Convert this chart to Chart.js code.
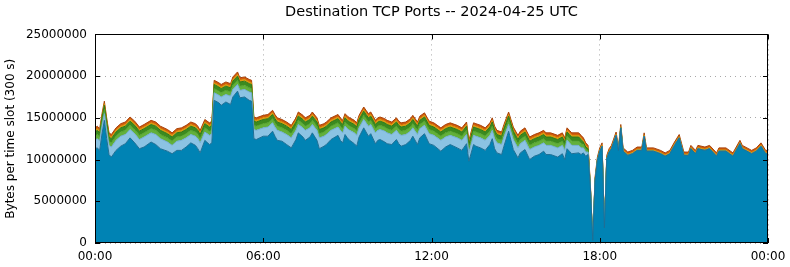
<!DOCTYPE html>
<html>
<head>
<meta charset="utf-8">
<script src="https://cdn.jsdelivr.net/npm/chart.js@4/dist/chart.umd.min.js"></script>
<style>
  body { margin: 0; background: #fff; }
  canvas { display: block; }
</style>
</head>
<body>
<canvas id="ports-chart" width="790" height="267"></canvas>
<script>
// 5 minute slot numbers (0 = 00:00, 288 = 24:00)
const slot = [
  0, 1, 2, 3, 4, 5, 6, 7, 9, 11, 13, 15, 17, 19, 21, 24, 26, 28, 31, 33, 35, 37, 39, 41, 43, 44, 45, 47, 49, 50,
  51, 53, 54, 56, 58, 59, 61, 62, 64, 66, 67,
  68, 69, 72, 74, 76, 77, 78, 80, 82, 84, 86, 87, 89, 90, 92, 93, 95, 96, 98, 99,
  101, 104, 105, 106, 107, 108, 109, 111, 112, 113, 115, 116, 117, 118, 120, 121, 122, 124, 125, 127,
  129, 130, 131, 133, 135, 136, 138, 139, 141, 143, 145, 148, 150, 152, 155, 157, 159, 160, 162, 163,
  165, 167, 169, 170, 171, 172, 174, 175, 177, 178, 179, 181, 182, 184, 186, 188, 190, 192, 193, 195,
  198, 200, 201, 202, 203, 204, 207, 208, 209, 210, 211,
  212, 213, 214, 215, 216, 217, 218, 219, 220, 221, 223, 224, 225, 226, 228, 230, 232, 234, 235, 236,
  239, 242, 244, 246, 248, 250, 252, 254, 255, 257, 258, 261, 263, 266, 267, 270, 273, 276, 277, 279,
  281, 283, 285, 287, 288
];

// stacked layers, in millions of bytes per slot (bottom to top)
const layerBlue = [
  11.3, 11.4, 11.1, 13.1, 14.7, 12.5, 10.6, 10.3, 11.1, 11.6, 11.9, 12.6, 12.0, 11.3, 11.5, 12.1, 11.8, 11.3, 11.0, 10.7, 11.1, 11.1, 11.5, 12.0, 11.7, 11.3, 10.8, 12.3, 11.8, 12.0,
  17.1, 16.8, 16.5, 16.9, 16.6, 17.5, 18.2, 17.4, 17.5, 17.1, 17.0,
  12.5, 12.4, 12.8, 12.8, 13.4, 12.8, 12.3, 12.2, 11.8, 11.4, 12.4, 13.2, 12.7, 12.3, 12.7, 13.2, 12.3, 11.3, 11.6, 11.8,
  12.4, 12.9, 12.3, 12.0, 13.0, 12.6, 12.3, 11.9, 11.6, 12.7, 13.8, 13.3, 12.8, 13.1, 11.9, 12.3, 12.4, 12.1, 11.9, 11.8,
  12.4, 11.9, 11.6, 11.8, 12.3, 12.8, 11.8, 12.6, 13.1, 11.9, 11.7, 11.0, 11.5, 11.8, 11.4, 11.1, 11.9, 9.8, 11.8, 11.6,
  11.4, 11.1, 11.8, 12.5, 11.3, 10.8, 10.6, 11.6, 13.4, 12.3, 11.2, 10.2, 10.8, 11.2, 10.0, 10.4, 10.6, 11.0, 10.6, 10.6,
  10.3, 10.7, 10.0, 11.3, 11.0, 10.7, 10.8, 10.6, 10.8, 10.4, 10.6,
  6.6, 0.3, 7.5, 9.9, 11.0, 11.6, 1.8, 10.1, 10.9, 11.3, 12.9, 11.1, 13.8, 11.0, 10.5, 10.7, 11.1, 11.1, 12.8, 11.0,
  11.0, 10.7, 10.4, 10.7, 11.7, 12.6, 10.5, 10.5, 11.3, 10.7, 11.3, 11.1, 11.3, 10.4, 11.0, 11.0, 10.4, 11.9, 11.3, 11.0,
  10.7, 11.0, 11.6, 10.7, 10.7
];
const layerLightBlue = [
  1.0, 1.1, 1.1, 0.9, 0.8, 1.0, 1.1, 1.2, 1.2, 1.2, 1.1, 1.0, 1.1, 1.1, 1.2, 1.1, 1.2, 1.2, 1.1, 1.0, 1.1, 1.2, 1.1, 1.0, 1.1, 1.2, 1.2, 1.0, 1.1, 1.1,
  0.9, 0.9, 1.0, 0.9, 1.0, 0.9, 0.8, 0.9, 0.9, 1.0, 1.0,
  1.1, 1.1, 1.0, 1.1, 1.0, 1.1, 1.2, 1.1, 1.2, 1.2, 1.1, 1.0, 1.1, 1.2, 1.1, 1.0, 1.2, 1.3, 1.2, 1.2,
  1.1, 1.0, 1.2, 1.2, 1.0, 1.1, 1.2, 1.3, 1.3, 1.1, 1.0, 1.1, 1.2, 1.1, 1.3, 1.2, 1.2, 1.3, 1.3, 1.2,
  1.1, 1.2, 1.3, 1.2, 1.1, 1.0, 1.2, 1.1, 1.0, 1.2, 1.2, 1.3, 1.2, 1.1, 1.2, 1.2, 1.1, 1.0, 1.1, 1.2,
  1.2, 1.2, 1.1, 1.0, 1.2, 1.2, 1.2, 1.1, 0.8, 1.0, 1.2, 1.2, 1.1, 1.1, 1.2, 1.1, 1.1, 1.0, 1.1, 1.1,
  1.1, 1.0, 1.1, 1.0, 1.0, 1.0, 0.9, 0.8, 0.6, 0.5, 0.3,
  0, 0, 0, 0, 0, 0, 0, 0, 0, 0, 0, 0, 0, 0, 0, 0, 0, 0, 0, 0,
  0, 0, 0, 0, 0, 0, 0, 0, 0, 0, 0, 0, 0, 0, 0, 0, 0, 0, 0, 0,
  0, 0, 0, 0, 0
];
const layerLightGreen = [
  0.5, 0.5, 0.5, 0.5, 0.5, 0.5, 0.5, 0.5, 0.5, 0.5, 0.5, 0.5, 0.5, 0.5, 0.5, 0.5, 0.5, 0.5, 0.5, 0.5, 0.5, 0.5, 0.5, 0.5, 0.5, 0.5, 0.5, 0.5, 0.5, 0.5,
  0.5, 0.5, 0.5, 0.5, 0.5, 0.5, 0.5, 0.5, 0.5, 0.5, 0.5,
  0.5, 0.5, 0.5, 0.5, 0.5, 0.5, 0.5, 0.5, 0.5, 0.5, 0.5, 0.5, 0.5, 0.5, 0.5, 0.5, 0.5, 0.5, 0.5, 0.5,
  0.5, 0.5, 0.5, 0.5, 0.5, 0.5, 0.5, 0.5, 0.5, 0.5, 0.5, 0.5, 0.5, 0.5, 0.5, 0.5, 0.5, 0.5, 0.5, 0.5,
  0.5, 0.5, 0.5, 0.5, 0.5, 0.5, 0.5, 0.5, 0.5, 0.5, 0.5, 0.5, 0.5, 0.5, 0.5, 0.5, 0.5, 0.5, 0.5, 0.5,
  0.5, 0.5, 0.5, 0.5, 0.5, 0.5, 0.5, 0.5, 0.5, 0.5, 0.5, 0.5, 0.5, 0.5, 0.5, 0.5, 0.5, 0.5, 0.5, 0.5,
  0.5, 0.5, 0.5, 0.5, 0.5, 0.5, 0.5, 0.5, 0.4, 0.3, 0.2,
  0, 0, 0, 0, 0, 0, 0, 0, 0, 0, 0, 0, 0, 0, 0, 0, 0, 0, 0, 0,
  0, 0, 0, 0, 0, 0, 0, 0, 0, 0, 0, 0, 0, 0, 0, 0, 0, 0, 0, 0,
  0, 0, 0, 0, 0
];
const layerDarkGreen = [
  0.5, 0.5, 0.5, 0.5, 0.5, 0.5, 0.5, 0.5, 0.5, 0.5, 0.5, 0.5, 0.5, 0.5, 0.5, 0.5, 0.5, 0.5, 0.5, 0.5, 0.5, 0.5, 0.5, 0.5, 0.5, 0.5, 0.5, 0.5, 0.5, 0.5,
  0.5, 0.5, 0.5, 0.5, 0.5, 0.5, 0.5, 0.5, 0.5, 0.5, 0.5,
  0.5, 0.5, 0.5, 0.5, 0.5, 0.5, 0.5, 0.5, 0.5, 0.5, 0.5, 0.5, 0.5, 0.5, 0.5, 0.5, 0.5, 0.5, 0.5, 0.5,
  0.5, 0.5, 0.5, 0.5, 0.5, 0.5, 0.5, 0.5, 0.5, 0.5, 0.5, 0.5, 0.5, 0.5, 0.5, 0.5, 0.5, 0.5, 0.5, 0.5,
  0.5, 0.5, 0.5, 0.5, 0.5, 0.5, 0.5, 0.5, 0.5, 0.5, 0.5, 0.5, 0.5, 0.5, 0.5, 0.5, 0.5, 0.5, 0.5, 0.5,
  0.5, 0.5, 0.5, 0.5, 0.5, 0.5, 0.5, 0.5, 0.5, 0.5, 0.5, 0.5, 0.5, 0.5, 0.5, 0.5, 0.5, 0.5, 0.5, 0.5,
  0.5, 0.5, 0.5, 0.5, 0.5, 0.5, 0.5, 0.5, 0.3, 0.3, 0.2,
  0, 0, 0, 0, 0, 0, 0, 0, 0, 0, 0, 0, 0, 0, 0, 0, 0, 0, 0, 0,
  0, 0, 0, 0, 0, 0, 0, 0, 0, 0, 0, 0, 0, 0, 0, 0, 0, 0, 0, 0,
  0, 0, 0, 0, 0
];
const layerYellow = [
  0.2, 0.2, 0.2, 0.2, 0.2, 0.2, 0.2, 0.2, 0.2, 0.2, 0.2, 0.2, 0.2, 0.2, 0.2, 0.2, 0.2, 0.2, 0.2, 0.2, 0.2, 0.2, 0.2, 0.2, 0.2, 0.2, 0.2, 0.2, 0.2, 0.2,
  0.2, 0.2, 0.2, 0.2, 0.2, 0.2, 0.2, 0.2, 0.2, 0.2, 0.2,
  0.2, 0.2, 0.2, 0.2, 0.2, 0.2, 0.2, 0.2, 0.2, 0.2, 0.2, 0.2, 0.2, 0.2, 0.2, 0.2, 0.2, 0.2, 0.2, 0.2,
  0.2, 0.2, 0.2, 0.2, 0.2, 0.2, 0.2, 0.2, 0.2, 0.2, 0.2, 0.2, 0.2, 0.2, 0.2, 0.2, 0.2, 0.2, 0.2, 0.2,
  0.2, 0.2, 0.2, 0.2, 0.2, 0.2, 0.2, 0.2, 0.2, 0.2, 0.2, 0.2, 0.2, 0.2, 0.2, 0.2, 0.2, 0.2, 0.2, 0.2,
  0.2, 0.2, 0.2, 0.2, 0.2, 0.2, 0.2, 0.2, 0.2, 0.2, 0.2, 0.2, 0.2, 0.2, 0.2, 0.2, 0.2, 0.2, 0.2, 0.2,
  0.2, 0.2, 0.2, 0.2, 0.2, 0.2, 0.2, 0.2, 0.2, 0.2, 0.15,
  0.15, 0, 0.15, 0.15, 0.15, 0.15, 0.05, 0.15, 0.15, 0.15, 0.15, 0.15, 0.15, 0.15, 0.15, 0.15, 0.15, 0.15, 0.15, 0.15,
  0.15, 0.15, 0.15, 0.15, 0.15, 0.15, 0.15, 0.15, 0.15, 0.15, 0.15, 0.15, 0.15, 0.15, 0.15, 0.15, 0.15, 0.15, 0.15, 0.15,
  0.15, 0.15, 0.15, 0.15, 0.15
];
const layerOrange = [
  0.3, 0.3, 0.3, 0.3, 0.3, 0.3, 0.3, 0.3, 0.3, 0.3, 0.3, 0.3, 0.3, 0.3, 0.3, 0.3, 0.3, 0.3, 0.3, 0.3, 0.3, 0.3, 0.3, 0.3, 0.3, 0.3, 0.3, 0.3, 0.3, 0.3,
  0.3, 0.3, 0.3, 0.3, 0.3, 0.3, 0.3, 0.3, 0.3, 0.3, 0.3,
  0.3, 0.3, 0.3, 0.3, 0.3, 0.3, 0.3, 0.3, 0.3, 0.3, 0.3, 0.3, 0.3, 0.3, 0.3, 0.3, 0.3, 0.3, 0.3, 0.3,
  0.3, 0.3, 0.3, 0.3, 0.3, 0.3, 0.3, 0.3, 0.3, 0.3, 0.3, 0.3, 0.3, 0.3, 0.3, 0.3, 0.3, 0.3, 0.3, 0.3,
  0.3, 0.3, 0.3, 0.3, 0.3, 0.3, 0.3, 0.3, 0.3, 0.3, 0.3, 0.3, 0.3, 0.3, 0.3, 0.3, 0.3, 0.3, 0.3, 0.3,
  0.3, 0.3, 0.3, 0.3, 0.3, 0.3, 0.3, 0.3, 0.3, 0.3, 0.3, 0.3, 0.3, 0.3, 0.3, 0.3, 0.3, 0.3, 0.3, 0.3,
  0.3, 0.3, 0.3, 0.3, 0.3, 0.3, 0.3, 0.3, 0.3, 0.3, 0.25,
  0.25, 0, 0.25, 0.25, 0.25, 0.25, 0.15, 0.25, 0.25, 0.25, 0.25, 0.25, 0.25, 0.25, 0.25, 0.25, 0.25, 0.25, 0.25, 0.25,
  0.25, 0.25, 0.25, 0.25, 0.25, 0.25, 0.25, 0.25, 0.25, 0.25, 0.25, 0.25, 0.25, 0.25, 0.25, 0.25, 0.25, 0.25, 0.25, 0.25,
  0.25, 0.25, 0.25, 0.25, 0.25
];

const timeTicks = ['00:00', '06:00', '12:00', '18:00', '00:00'];

const FONT = 'DejaVu Sans';

// turn a layer (in millions) into points on the slot axis
function toPoints(values) {
  return values.map((v, i) => ({ x: slot[i], y: v * 1e6 }));
}

function layer(values, fillColor, lineColor, first) {
  return {
    data: toPoints(values),
    backgroundColor: fillColor,
    borderColor: lineColor,
    borderWidth: 1,
    fill: first ? 'origin' : '-1',
    pointRadius: 0,
    tension: 0
  };
}

// gnuplot style box with inward ticks on all four sides
const framePlugin = {
  id: 'frame',
  afterDatasetsDraw(chart) {
    const { ctx, chartArea: a, scales: { x, y } } = chart;
    const tick = 5;
    ctx.save();
    ctx.strokeStyle = '#000';
    ctx.lineWidth = 1;
    ctx.beginPath();
    x.ticks.forEach(t => {
      const px = Math.round(x.getPixelForValue(t.value)) + 0.5;
      ctx.moveTo(px, a.bottom);
      ctx.lineTo(px, a.bottom - tick);
      ctx.moveTo(px, a.top);
      ctx.lineTo(px, a.top + tick);
    });
    y.ticks.forEach(t => {
      const py = Math.round(y.getPixelForValue(t.value)) + 0.5;
      ctx.moveTo(a.left, py);
      ctx.lineTo(a.left + tick, py);
      ctx.moveTo(a.right, py);
      ctx.lineTo(a.right - tick, py);
    });
    ctx.stroke();
    ctx.strokeRect(Math.round(a.left) + 0.5, Math.round(a.top) + 0.5,
      Math.round(a.width) - 1, Math.round(a.height) - 1);
    ctx.restore();
  }
};

new Chart(document.getElementById('ports-chart').getContext('2d'), {
  type: 'line',
  data: {
    datasets: [
      layer(layerBlue, '#0083b4', '#1f6f95', true),
      layer(layerLightBlue, '#8cc3e3', '#72aed3'),
      layer(layerLightGreen, '#62b03a', '#52a02d'),
      layer(layerDarkGreen, '#3b8a1f', '#2f7818'),
      layer(layerYellow, '#e6a20e', '#d48f08'),
      layer(layerOrange, '#d25a0c', '#a8440a')
    ]
  },
  plugins: [framePlugin],
  options: {
    responsive: false,
    animation: false,
    layout: { padding: { right: 22 } },
    plugins: {
      legend: { display: false },
      tooltip: { enabled: false },
      title: {
        display: true,
        fullSize: false, // center over the plot area, like gnuplot
        text: 'Destination TCP Ports -- 2024-04-25 UTC',
        color: '#000',
        font: { family: FONT, size: 14.5, weight: 'normal' },
        padding: { top: 4, bottom: 13 }
      }
    },
    scales: {
      x: {
        type: 'linear',
        min: 0,
        max: 288,
        afterFit: s => {
          s.height = 24;
          s.paddingLeft = 0;
          s.paddingRight = 0;
        },
        ticks: {
          stepSize: 72,
          autoSkip: false,
          maxRotation: 0,
          padding: 7,
          color: '#000',
          font: { family: FONT, size: 12 },
          callback: (v, i) => timeTicks[i]
        },
        grid: { color: '#a8a8a8', drawTicks: false },
        border: { display: false, dash: [1, 4] }
      },
      y: {
        stacked: true,
        min: 0,
        max: 25000000,
        afterFit: s => { s.width = 95; },
        ticks: {
          stepSize: 5000000,
          padding: 8,
          color: '#000',
          font: { family: FONT, size: 12 },
          callback: v => String(v)
        },
        grid: { color: '#a8a8a8', drawTicks: false },
        border: { display: false, dash: [1, 4] },
        title: {
          display: true,
          text: 'Bytes per time slot (300 s)',
          color: '#000',
          font: { family: FONT, size: 12 },
          padding: { top: 4, bottom: 0 }
        }
      }
    }
  }
});
</script>
</body>
</html>
